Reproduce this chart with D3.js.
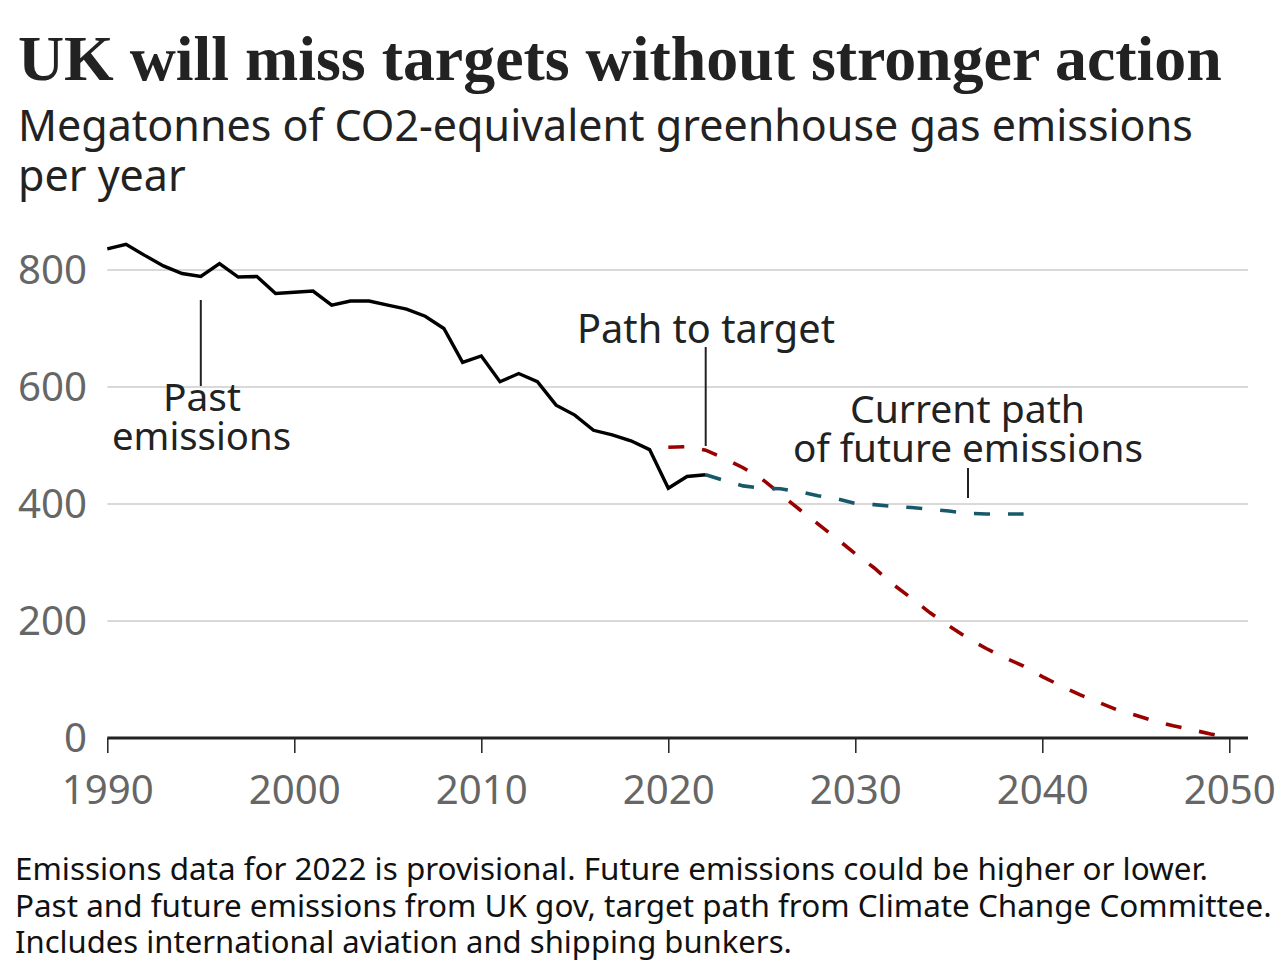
<!DOCTYPE html>
<html>
<head>
<meta charset="utf-8">
<script src="https://cdn.jsdelivr.net/npm/d3@7"></script>
<style>
  html, body { margin: 0; padding: 0; background: #fff; }
  svg { display: block; }
</style>
</head>
<body>
<script>
// ---------- DATA ----------
const pastYears = d3.range(1990, 2023);
const pastValues = [836, 844, 825, 807, 794, 789, 811, 788, 789, 760, 762, 764, 740, 747, 747, 740, 733, 721, 700, 642, 653, 609, 623, 609, 569, 552, 526, 518, 508, 493, 427, 447, 450];

const targetYears = d3.range(2020, 2051);
const targetValues = [497, 498, 492, 478, 462, 443, 417, 391, 366, 341, 315, 291, 263, 239, 214, 192, 171, 153, 137, 123, 105, 89, 74, 61, 48, 39, 29, 21, 14, 7, 1];

const currentYears = d3.range(2022, 2040);
const currentValues = [450, 440, 431, 427, 426, 421, 414, 409, 401, 399, 396, 394, 391, 388, 384, 383, 383, 383];

const yTicks = [0, 200, 400, 600, 800];
const xTicks = [1990, 2000, 2010, 2020, 2030, 2040, 2050];

const titleText = "UK will miss targets without stronger action";
const subtitleLines = ["Megatonnes of CO2-equivalent greenhouse gas emissions", "per year"];
const footnoteLines = [
  "Emissions data for 2022 is provisional. Future emissions could be higher or lower.",
  "Past and future emissions from UK gov, target path from Climate Change Committee.",
  "Includes international aviation and shipping bunkers."
];

// ---------- SETUP ----------
const W = 1280, H = 974;
const sans = "'Noto Sans', 'Open Sans', sans-serif";
const serif = "'Liberation Serif', 'DejaVu Serif', serif";
const svg = d3.select("body").append("svg").attr("width", W).attr("height", H);

function fit(sel, width) {
  const node = sel.node();
  const fs = parseFloat(sel.attr("font-size"));
  const w = node.getComputedTextLength();
  if (w > 0) sel.attr("font-size", (fs * width / w).toFixed(2));
  return sel;
}

const x = d3.scaleLinear().domain([1990, 2050]).range([107.3, 1229.3]);
const y = d3.scaleLinear().domain([0, 800]).range([738, 270]);

// ---------- TITLES ----------
fit(svg.append("text").attr("x", 18).attr("y", 80)
  .attr("font-family", serif).attr("font-weight", "bold").attr("font-size", 56)
  .attr("fill", "#222").text(titleText), 1204);

const subW = [1175, 162];
const subY = [141, 191];
const sub1 = svg.append("text").attr("x", 18).attr("y", subY[0])
  .attr("font-family", sans).attr("font-size", 40).attr("fill", "#222").text(subtitleLines[0]);
fit(sub1, subW[0]);
svg.append("text").attr("x", 18).attr("y", subY[1])
  .attr("font-family", sans).attr("font-size", sub1.attr("font-size")).attr("fill", "#222").text(subtitleLines[1]);

// ---------- GRID ----------
svg.append("g").selectAll("line").data(yTicks.filter(d => d > 0)).join("line")
  .attr("x1", 107.3).attr("x2", 1248)
  .attr("y1", d => y(d)).attr("y2", d => y(d))
  .attr("stroke", "#cccccc").attr("stroke-width", 1.5);

// y labels
const yl = svg.append("g").selectAll("text").data(yTicks).join("text")
  .attr("x", 87).attr("y", d => y(d)).attr("dy", "0.36em")
  .attr("text-anchor", "end").attr("font-family", sans).attr("font-size", 36)
  .attr("fill", "#666").text(d => d);
fit(d3.select(yl.nodes()[4]), 69);
yl.attr("font-size", d3.select(yl.nodes()[4]).attr("font-size"));

// x axis
const xAxis = svg.append("g").attr("transform", `translate(0,${y(0)})`)
  .call(d3.axisBottom(x).tickValues(xTicks).tickFormat(d3.format("d")).tickSize(15).tickPadding(22));
xAxis.select(".domain").remove();
xAxis.selectAll(".tick line").attr("stroke", "#222").attr("stroke-width", 1.5);
xAxis.selectAll(".tick text").attr("font-family", sans).attr("font-size", 36).attr("fill", "#666");
const t0 = d3.select(xAxis.selectAll(".tick text").nodes()[0]);
fit(t0, 92);
xAxis.selectAll(".tick text").attr("font-size", t0.attr("font-size"));
svg.append("line").attr("x1", 107.3).attr("x2", 1248).attr("y1", y(0)).attr("y2", y(0))
  .attr("stroke", "#222").attr("stroke-width", 3);

// ---------- LINES ----------
const line = d3.line().x(d => x(d[0])).y(d => y(d[1]));

svg.append("path").datum(targetYears.map((yr, i) => [yr, targetValues[i]]))
  .attr("d", line).attr("fill", "none").attr("stroke", "#990000")
  .attr("stroke-width", 3.6).attr("stroke-dasharray", "16 18");

svg.append("path").datum(currentYears.map((yr, i) => [yr, currentValues[i]]))
  .attr("d", line).attr("fill", "none").attr("stroke", "#17596a")
  .attr("stroke-width", 3.6).attr("stroke-dasharray", "16 18");

svg.append("path").datum(pastYears.map((yr, i) => [yr, pastValues[i]]))
  .attr("d", line).attr("fill", "none").attr("stroke", "#000")
  .attr("stroke-width", 3.4).attr("stroke-linejoin", "miter");

// ---------- ANNOTATIONS ----------
function leader(x0, y1, y2) {
  svg.append("line").attr("x1", x0).attr("x2", x0).attr("y1", y1).attr("y2", y2)
    .attr("stroke", "#222").attr("stroke-width", 2);
}
function label(txt, cx, by, w) {
  const t = svg.append("text").attr("x", cx).attr("y", by).attr("text-anchor", "middle")
    .attr("font-family", sans).attr("font-size", 36).attr("fill", "#222").text(txt);
  fit(t, w);
  return t;
}
leader(x(1995), 300, 386);
label("Past", 202, 411, 78);
label("emissions", 201.5, 450, 179);

leader(x(2022), 347, 446);
label("Path to target", 706, 343, 258);

leader(968, 468, 498);
label("Current path", 967.5, 423, 235);
label("of future emissions", 968, 462, 350);

// ---------- FOOTNOTE ----------
const fW = [1193, 1257, 777];
const fY = [880, 917, 953];
footnoteLines.forEach((l, i) => {
  const t = svg.append("text").attr("x", 15).attr("y", fY[i])
    .attr("font-family", sans).attr("font-size", 28).attr("fill", "#111").text(l);
  fit(t, fW[i]);
});
</script>
</body>
</html>
